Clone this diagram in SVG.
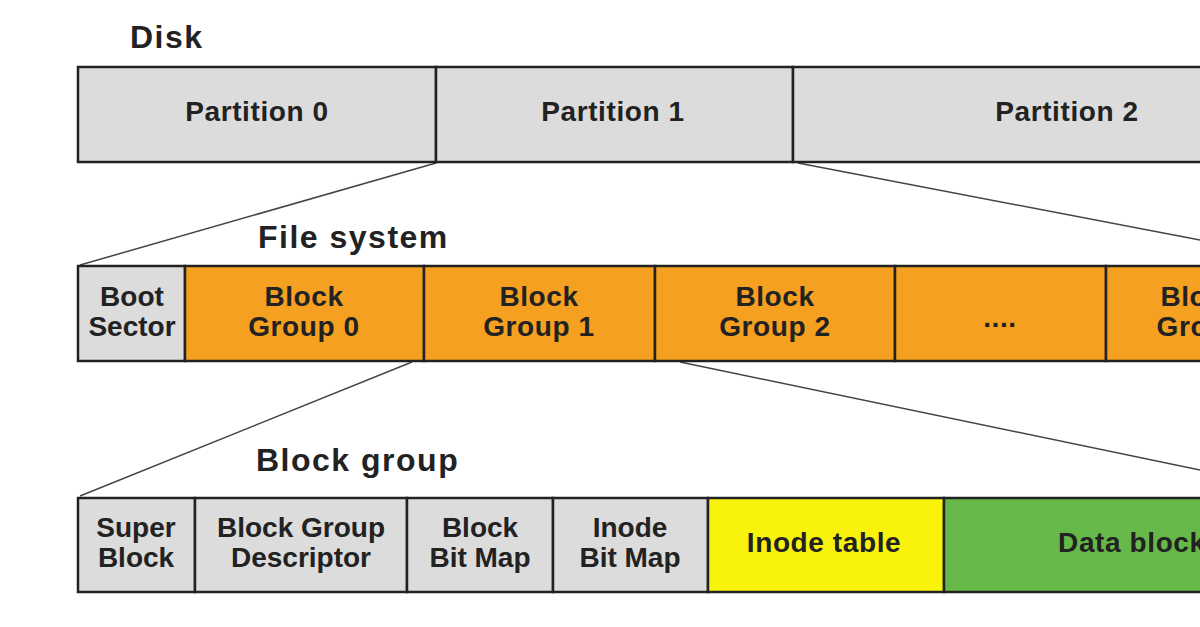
<svg xmlns="http://www.w3.org/2000/svg" width="1200" height="627" viewBox="0 0 1200 627">
<style>
.b{stroke:#222;stroke-width:2.5}
.g{fill:#dcdcdc}.o{fill:#f5a020}.y{fill:#f8f20c}.gr{fill:#66b848}
text{font-family:"Liberation Sans",Arial,sans-serif;font-weight:bold;font-size:28px;letter-spacing:0.6px;fill:#222;text-anchor:middle}
.l{text-anchor:start;font-size:32px;letter-spacing:1.5px}
.c{stroke:#444;stroke-width:1.5;fill:none}
</style>
<rect width="1200" height="627" fill="#fff"/>
<text class="l" x="130" y="48">Disk</text>
<text class="l" x="258" y="248">File system</text>
<text class="l" x="256" y="471">Block group</text>
<g id="connectors">
<line class="c" x1="436" y1="163" x2="80" y2="265"/>
<line class="c" x1="798" y1="163" x2="1200" y2="240"/>
<line class="c" x1="412" y1="362" x2="80" y2="496"/>
<line class="c" x1="680" y1="362" x2="1200" y2="470"/>
</g>
<g id="p0"><rect class="b g" x="78" y="67" width="358" height="95"/><text x="257" y="121">Partition 0</text></g>
<g id="p1"><rect class="b g" x="436" y="67" width="357" height="95"/><text x="613" y="121">Partition 1</text></g>
<g id="p2"><rect class="b g" x="793" y="67" width="420" height="95"/><text x="1067" y="121">Partition 2</text></g>
<g id="boot"><rect class="b g" x="78" y="266" width="107" height="95"/><text x="132" y="306" style="letter-spacing:0">Boot</text><text x="132" y="336" style="letter-spacing:0">Sector</text></g>
<g id="bg0"><rect class="b o" x="185" y="266" width="239" height="95"/><text x="304" y="306">Block</text><text x="304" y="336">Group 0</text></g>
<g id="bg1"><rect class="b o" x="424" y="266" width="231" height="95"/><text x="539" y="306">Block</text><text x="539" y="336">Group 1</text></g>
<g id="bg2"><rect class="b o" x="655" y="266" width="240" height="95"/><text x="775" y="306">Block</text><text x="775" y="336">Group 2</text></g>
<g id="dots"><rect class="b o" x="895" y="266" width="211" height="95"/><text x="1000" y="327">....</text></g>
<g id="bgn"><rect class="b o" x="1106" y="266" width="120" height="95"/><text x="1200" y="306">Block</text><text x="1200" y="336">Group</text></g>
<g id="sb"><rect class="b g" x="78" y="498" width="117" height="94"/><text x="136" y="537" style="letter-spacing:0">Super</text><text x="136" y="567" style="letter-spacing:0">Block</text></g>
<g id="bgd"><rect class="b g" x="195" y="498" width="212" height="94"/><text x="301" y="537" style="letter-spacing:0">Block Group</text><text x="301" y="567" style="letter-spacing:0">Descriptor</text></g>
<g id="bbm"><rect class="b g" x="407" y="498" width="146" height="94"/><text x="480" y="537" style="letter-spacing:0">Block</text><text x="480" y="567" style="letter-spacing:0">Bit Map</text></g>
<g id="ibm"><rect class="b g" x="553" y="498" width="155" height="94"/><text x="630" y="537" style="letter-spacing:0">Inode</text><text x="630" y="567" style="letter-spacing:0">Bit Map</text></g>
<g id="it"><rect class="b y" x="708" y="498" width="236" height="94"/><text x="824" y="552">Inode table</text></g>
<g id="db"><rect class="b gr" x="944" y="498" width="280" height="94"/><text x="1140" y="552">Data blocks</text></g>
</svg>
